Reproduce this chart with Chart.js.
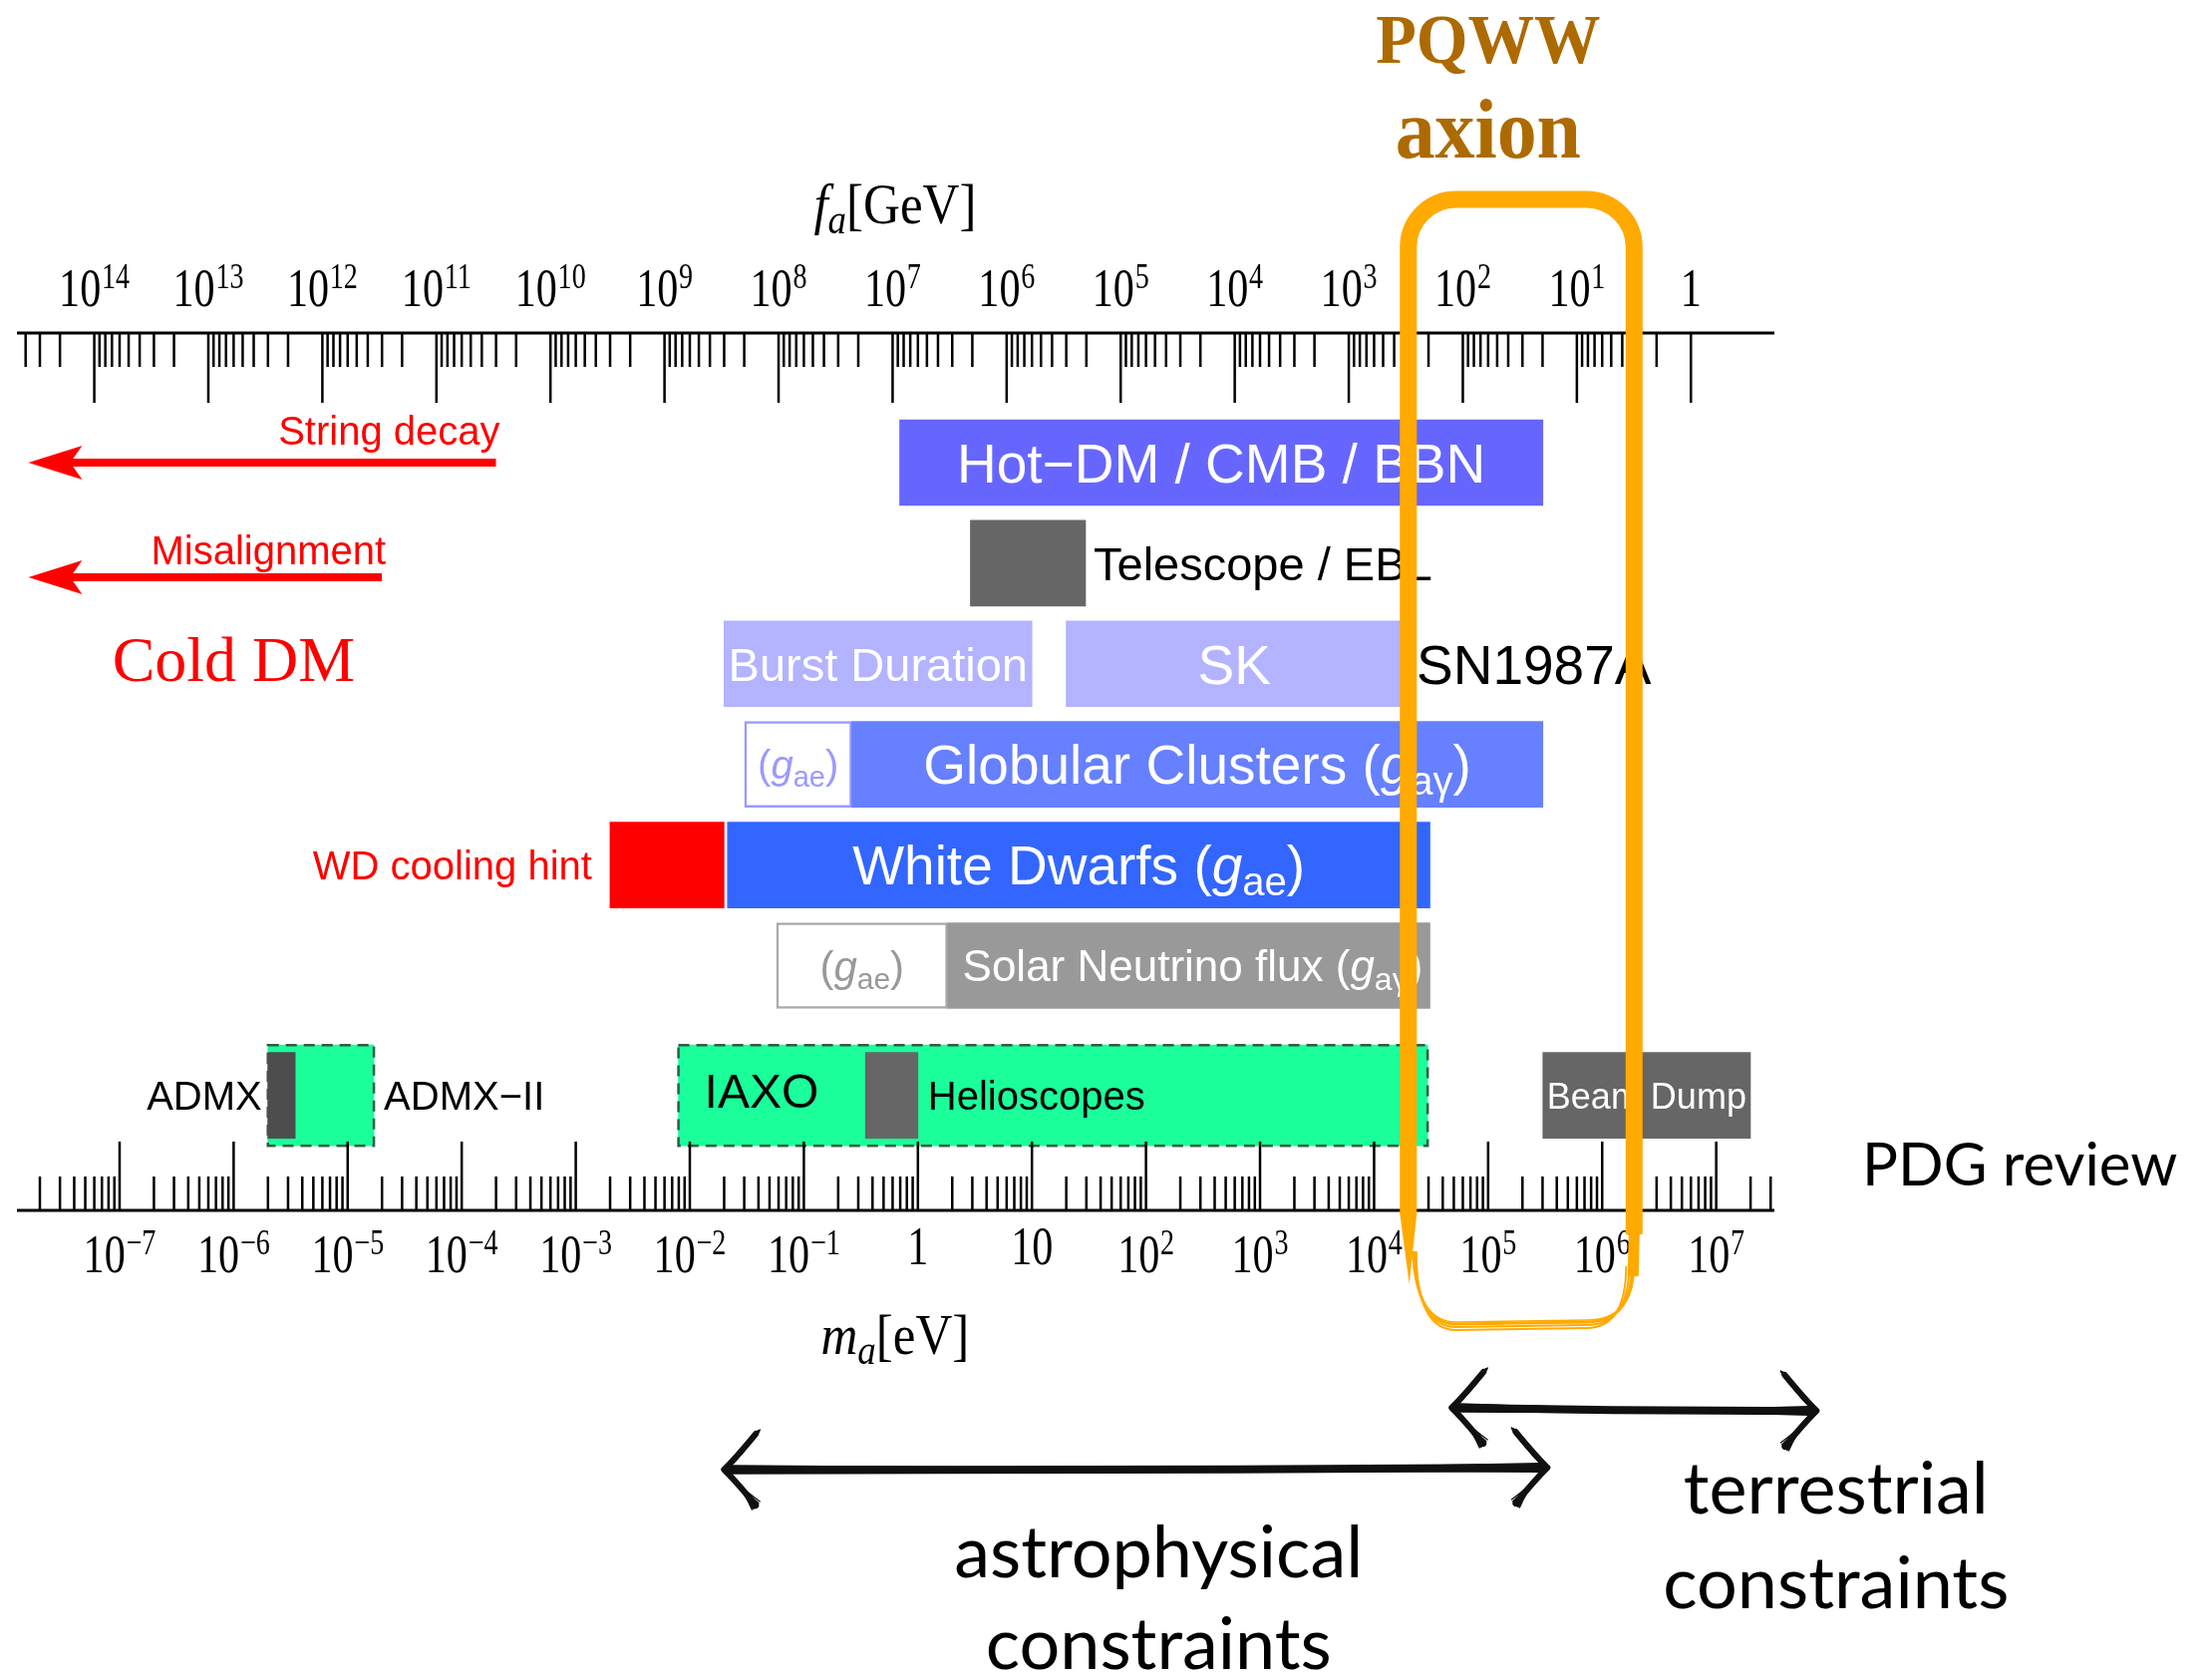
<!DOCTYPE html>
<html>
<head>
<meta charset="utf-8">
<title>Axion bounds</title>
<script src="https://cdn.jsdelivr.net/npm/chart.js@4.4.1/dist/chart.umd.min.js"></script>
<style>
  html, body { margin: 0; padding: 0; background: #ffffff; }
  #wrap { width: 2219px; height: 1682px; }
</style>
</head>
<body>
<div id="wrap"><canvas id="axionChart" width="2219" height="1682"></canvas></div>
<script>
// x values are log10(m_a / eV); f_a [GeV] follows from m_a = 6 meV * 1e9 GeV / f_a
const FA_MA_OFFSET = Math.log10(6e6);

// rows, top to bottom
const rowNames = ['cosmology', 'telescope', 'SN1987A', 'globular clusters', 'white dwarfs', 'sun', 'experiments'];
const rowPos = [0, 1, 2, 3, 4, 5, 6.29];

// excluded / hinted mass ranges
const boundLabels = ['Hot−DM / CMB / BBN', 'Telescope / EBL', 'Burst Duration', 'SK', '(g_ae)', 'Globular Clusters (g_aγ)',
                     'WD cooling hint', 'White Dwarfs (g_ae)', '(g_ae)', 'Solar Neutrino flux (g_aγ)', 'ADMX', 'Helioscopes', 'Beam Dump'];
const boundRow = [0, 1, 2, 2, 3, 3, 4, 4, 5, 5, 6, 6, 6];
const boundMin = [-0.16, 0.46, -1.70, 1.30, -1.52, -0.58, -2.70, -1.67, -1.24, 0.26, -5.70, -0.46, 5.48];
const boundMax = [5.48, 1.47, 1.00, 4.25, -0.58, 5.48, -1.70, 4.49, 0.26, 4.49, -5.46, 0.00, 7.30];

// planned searches
const searchLabels = ['ADMX−II', 'IAXO'];
const searchRow = [6, 6];
const searchMin = [-5.70, -2.10];
const searchMax = [-4.77, 4.47];

// cold dark matter production arrows
const cdmLabels = ['String decay', 'Misalignment'];
const cdmFrom = [-3.70, -4.70];
const cdmTo = [-7.80, -7.80];
const cdmRow = [0, 1.14];

// PQWW window and constraint spans
const pqwwRange = [4.30, 6.28];
const spanLabels = [['astrophysical', 'constraints'], ['terrestrial', 'constraints']];
const spanMin = [-1.70, 4.68];
const spanMax = [5.52, 7.88];

// axis decades
const faDecades = [14, 13, 12, 11, 10, 9, 8, 7, 6, 5, 4, 3, 2, 1, 0];
const maDecades = [-7, -6, -5, -4, -3, -2, -1, 0, 1, 2, 3, 4, 5, 6, 7];
const minorSteps = [2, 3, 4, 5, 6, 7, 8, 9];

const SANS = '"Liberation Sans", Arial, Helvetica, sans-serif';
const SERIF = '"Liberation Serif", "Times New Roman", serif';
const GILL = 'Lato, "Open Sans", sans-serif';

const boundFill = ['#6666FF', '#666666', '#B3B3FF', '#B3B3FF', '#FFFFFF', '#6680FF', '#FF0000',
                   '#3366FF', '#FFFFFF', '#999999', '#4D4D4D', '#666666', '#666666'];
const boundEdge = ['#6666FF', '#666666', '#B3B3FF', '#B3B3FF', '#9999FF', '#6680FF', '#FF0000',
                   '#3366FF', '#AAAAAA', '#999999', '#4D4D4D', '#666666', '#666666'];
const boundEdgeWidth = [0, 0, 0, 0, 2.5, 0, 0, 0, 2.5, 0, 0, 0, 0];

const labelStyle = [
    { pos: 'center', color: '#FFFFFF', size: 55 },
    { pos: 'right', color: '#000000', size: 47, gap: 8 },
    { pos: 'center', color: '#FFFFFF', size: 47 },
    { pos: 'center', color: '#FFFFFF', size: 55 },
    { pos: 'center', color: '#9A9AFF', size: 40 },
    { pos: 'center', color: '#FFFFFF', size: 55 },
    { pos: 'left', color: '#FF0000', size: 40, gap: 18 },
    { pos: 'center', color: '#FFFFFF', size: 55 },
    { pos: 'center', color: '#999999', size: 42 },
    { pos: 'inside', color: '#FFFFFF', size: 44, gap: 15 },
    { pos: 'left', color: '#000000', size: 40, gap: 6 },
    { pos: 'right', color: '#000000', size: 40, gap: 10 },
    { pos: 'center', color: '#FFFFFF', size: 36 }
];

// split "g_ae" into italic g + subscript
function textParts(str) {
    const out = [];
    str.split(/(g_[a-zγ]+)/).forEach(s => {
        if (!s) return;
        if (s.startsWith('g_')) {
            out.push({ t: 'g', italic: true });
            out.push({ t: s.slice(2), sub: true });
        } else {
            out.push({ t: s });
        }
    });
    return out;
}

function drawRich(ctx, str, x, y, size, align, color) {
    const parts = textParts(str);
    const fontFor = p => `${p.italic ? 'italic ' : ''}${p.sub ? Math.round(size * 0.72) : size}px ${SANS}`;
    let total = 0;
    parts.forEach(p => { ctx.font = fontFor(p); p.w = ctx.measureText(p.t).width; total += p.w; });
    let cx = align === 'center' ? x - total / 2 : align === 'right' ? x - total : x;
    ctx.fillStyle = color;
    ctx.textAlign = 'left';
    ctx.textBaseline = 'alphabetic';
    parts.forEach(p => {
        ctx.font = fontFor(p);
        ctx.fillText(p.t, cx, y + (p.sub ? size * 0.2 : 0));
        cx += p.w;
    });
}

function drawPower(ctx, base, exp, cx, baseline) {
    const size = 54, supSize = 36, squeeze = 0.78;
    ctx.save();
    ctx.translate(cx, baseline);
    ctx.scale(squeeze, 1);
    ctx.fillStyle = '#000';
    ctx.textAlign = 'left';
    ctx.textBaseline = 'alphabetic';
    ctx.font = `${size}px ${SERIF}`;
    const wb = ctx.measureText(base).width;
    let we = 0;
    if (exp) { ctx.font = `${supSize}px ${SERIF}`; we = ctx.measureText(exp).width + 1; }
    const x0 = -(wb + we) / 2;
    ctx.font = `${size}px ${SERIF}`;
    ctx.fillText(base, x0, 0);
    if (exp) {
        ctx.font = `${supSize}px ${SERIF}`;
        ctx.fillText(exp, x0 + wb + 1, -size * 0.34);
    }
    ctx.restore();
}

function squeezedText(ctx, parts, cx, baseline, squeeze) {
    // parts: [text, font, dy]
    ctx.save();
    ctx.translate(cx, baseline);
    ctx.scale(squeeze, 1);
    ctx.textAlign = 'left';
    ctx.textBaseline = 'alphabetic';
    let total = 0;
    parts.forEach(p => { ctx.font = p[1]; total += ctx.measureText(p[0]).width; });
    let x = -total / 2;
    parts.forEach(p => {
        ctx.font = p[1];
        ctx.fillText(p[0], x, p[2] || 0);
        x += ctx.measureText(p[0]).width;
    });
    ctx.restore();
}

function redArrow(ctx, x0, x1, y) {
    ctx.strokeStyle = '#FF0000';
    ctx.fillStyle = '#FF0000';
    ctx.lineWidth = 8;
    ctx.beginPath();
    ctx.moveTo(x0, y);
    ctx.lineTo(x1 + 40, y);
    ctx.stroke();
    ctx.beginPath();
    ctx.moveTo(x1, y);
    ctx.lineTo(x1 + 54, y - 17);
    ctx.lineTo(x1 + 42, y);
    ctx.lineTo(x1 + 54, y + 17);
    ctx.closePath();
    ctx.fill();
}

function sketchLine(ctx, x0, y0, x1, y1) {
    // a few overlapping pen strokes, heavier in the middle
    const strokes = [[0, 0, 8], [2.5, -1.5, 3], [-2.5, 2, 3], [4, 3, 1.5], [-4, -3, 1.5], [1, 4.5, 1.2], [-1, -4.5, 1.2]];
    strokes.forEach(([a, b, w]) => {
        ctx.lineWidth = w;
        ctx.beginPath();
        ctx.moveTo(x0, y0 + a);
        ctx.quadraticCurveTo((x0 + x1) / 2, (y0 + y1) / 2 + (a - b) / 2 + 2, x1, y1 + b);
        ctx.stroke();
    });
}

function chevron(ctx, tx, ty, dir, w, h) {
    // dir = -1 points left, +1 points right
    const strokes = [[0, 6], [2.5, 3], [-2, 2.5], [4, 1.5], [-4, 1.2]];
    strokes.forEach(([o, lw]) => {
        ctx.lineWidth = lw;
        ctx.beginPath();
        ctx.moveTo(tx - dir * (w + o), ty - h - o);
        ctx.quadraticCurveTo(tx - dir * (w * 0.35 + o), ty - h * 0.3, tx, ty + o * 0.4);
        ctx.quadraticCurveTo(tx - dir * (w * 0.35 + o), ty + h * 0.3, tx - dir * (w - o), ty + h + o);
        ctx.stroke();
    });
}

function barSpan(el) {
    const { x, base, y } = el.getProps(['x', 'base', 'y'], true);
    return { lo: Math.min(x, base), hi: Math.max(x, base), y };
}

const dashedBoxes = {
    id: 'dashedBoxes',
    afterDatasetDraw(chart, args) {
        if (args.index !== 1) return;
        const ctx = chart.ctx;
        ctx.save();
        ctx.strokeStyle = 'rgba(45, 60, 50, 0.85)';
        ctx.lineWidth = 2.5;
        ctx.setLineDash([11, 7]);
        args.meta.data.forEach(el => {
            const { lo, hi, y } = barSpan(el);
            const h = el.getProps(['height'], true).height;
            ctx.strokeRect(lo, y - h / 2, hi - lo, h);
        });
        ctx.restore();
    }
};

const overlay = {
    id: 'overlay',
    afterDraw(chart) {
        const ctx = chart.ctx;
        const area = chart.chartArea;
        const px = v => chart.scales.x.getPixelForValue(v);
        const py = v => chart.scales.y.getPixelForValue(v);
        ctx.save();

        // labels on and beside the bars
        const bars = chart.getDatasetMeta(0).data;
        bars.forEach((el, i) => {
            const { lo, hi, y } = barSpan(el);
            const st = labelStyle[i];
            const yb = y + st.size * 0.36;
            if (st.pos === 'center') drawRich(ctx, boundLabels[i], (lo + hi) / 2, yb, st.size, 'center', st.color);
            else if (st.pos === 'right') drawRich(ctx, boundLabels[i], hi + st.gap, yb, st.size, 'left', st.color);
            else if (st.pos === 'left') drawRich(ctx, boundLabels[i], lo - st.gap, yb, st.size, 'right', st.color);
            else drawRich(ctx, boundLabels[i], lo + st.gap, yb, st.size, 'left', st.color);
        });
        // supernova row name after the SK bar
        const sk = barSpan(bars[3]);
        drawRich(ctx, rowNames[2], sk.hi + 14, sk.y + 55 * 0.36, 55, 'left', '#000000');

        const boxes = chart.getDatasetMeta(1).data;
        const admx2 = barSpan(boxes[0]);
        drawRich(ctx, searchLabels[0], admx2.hi + 10, admx2.y + 40 * 0.36, 40, 'left', '#000000');
        const iaxo = barSpan(boxes[1]);
        drawRich(ctx, searchLabels[1], iaxo.lo + 26, iaxo.y + 48 * 0.36 - 5, 48, 'left', '#000000');

        // axis lines
        const yTop = area.top, yBot = area.bottom;
        ctx.strokeStyle = '#000';
        ctx.lineWidth = 3;
        ctx.beginPath();
        ctx.moveTo(area.left, yTop); ctx.lineTo(area.right, yTop);
        ctx.moveTo(area.left, yBot); ctx.lineTo(area.right, yBot);
        ctx.stroke();

        const xMin = chart.scales.x.min, xMax = chart.scales.x.max;
        const inRange = v => v >= xMin && v <= xMax;
        ctx.lineWidth = 2.5;
        ctx.beginPath();
        // f_a ticks hang down from the top axis
        faDecades.forEach(n => {
            const v = FA_MA_OFFSET - n;
            ctx.moveTo(px(v), yTop); ctx.lineTo(px(v), yTop + 70);
        });
        [15].concat(faDecades).forEach(n => minorSteps.forEach(k => {
            const m = FA_MA_OFFSET - (n - 1) - Math.log10(k);
            if (n >= 1 && inRange(m)) { ctx.moveTo(px(m), yTop); ctx.lineTo(px(m), yTop + 34); }
        }));
        // m_a ticks stand up from the bottom axis
        maDecades.forEach(n => {
            ctx.moveTo(px(n), yBot); ctx.lineTo(px(n), yBot - 69);
        });
        [-8].concat(maDecades).forEach(n => minorSteps.forEach(k => {
            const m = n + Math.log10(k);
            if (inRange(m)) { ctx.moveTo(px(m), yBot); ctx.lineTo(px(m), yBot - 34); }
        }));
        ctx.stroke();

        faDecades.forEach(n => {
            const x = px(FA_MA_OFFSET - n);
            if (n === 0) drawPower(ctx, '1', '', x, yTop - 27);
            else drawPower(ctx, '10', String(n), x, yTop - 27);
        });
        maDecades.forEach(n => {
            const x = px(n);
            if (n === 0) drawPower(ctx, '1', '', x, yBot + 54);
            else if (n === 1) drawPower(ctx, '10', '', x, yBot + 54);
            else drawPower(ctx, '10', n < 0 ? '−' + Math.abs(n) : String(n), x, yBot + 62);
        });

        // axis titles
        ctx.fillStyle = '#000';
        squeezedText(ctx, [
            ['f', `italic 58px ${SERIF}`, 0],
            ['a', `italic 42px ${SERIF}`, 10],
            ['[GeV]', `58px ${SERIF}`, 0]
        ], px(-0.2), yTop - 110, 0.88);
        squeezedText(ctx, [
            ['m', `italic 58px ${SERIF}`, 0],
            ['a', `italic 42px ${SERIF}`, 10],
            ['[eV]', `58px ${SERIF}`, 0]
        ], px(-0.2), yBot + 144, 0.88);

        // cold dark matter production
        cdmLabels.forEach((label, i) => {
            const y = py(cdmRow[i]);
            redArrow(ctx, px(cdmFrom[i]), px(cdmTo[i]), y);
            drawRich(ctx, label, px(cdmFrom[i]) + 4, y - (i === 0 ? 18 : 13), 40, 'right', '#FF0000');
        });
        ctx.fillStyle = '#FF0000';
        ctx.textAlign = 'left';
        ctx.font = `64px ${SERIF}`;
        ctx.fillText('Cold DM', px(-7.064), py(2.17));

        // review tag and constraint spans
        ctx.fillStyle = '#000';
        ctx.font = `60px ${GILL}`;
        ctx.fillText('PDG review', area.right + 88, yBot - 25);

        ctx.strokeStyle = '#111';
        ctx.lineCap = 'round';
        ctx.lineJoin = 'round';
        const spanY = [[yBot + 260, yBot + 258], [yBot + 198, yBot + 201]];
        spanMin.forEach((lo, i) => {
            const x0 = px(lo), x1 = px(spanMax[i]);
            sketchLine(ctx, x0 + 8, spanY[i][0], x1 - 8, spanY[i][1]);
            chevron(ctx, x0, spanY[i][0], -1, 32, 36);
            chevron(ctx, x1, spanY[i][1], 1, 32, 36);
        });
        ctx.fillStyle = '#000';
        ctx.textAlign = 'center';
        ctx.font = `72px ${GILL}`;
        ctx.fillText(spanLabels[0][0], px(2.11), yBot + 368);
        ctx.fillText(spanLabels[0][1], px(2.11), yBot + 460);
        ctx.fillText(spanLabels[1][0], px(8.05), yBot + 304);
        ctx.fillText(spanLabels[1][1], px(8.05), yBot + 399);

        // PQWW window
        const L = px(pqwwRange[0]), R = px(pqwwRange[1]);
        const T = yTop - 134, B = yBot + 114, r = 48;
        ctx.strokeStyle = '#FFAA00';
        ctx.fillStyle = '#FFAA00';
        ctx.lineCap = 'butt';
        ctx.lineWidth = 17;
        ctx.beginPath();
        ctx.moveTo(L, B - 110);
        ctx.lineTo(L, T + r);
        ctx.arcTo(L, T, L + r, T, r);
        ctx.lineTo(R - r, T);
        ctx.arcTo(R, T, R, T + r, r);
        ctx.lineTo(R, B - 90);
        ctx.stroke();
        ctx.beginPath();
        ctx.moveTo(L - 8.5, B - 111);
        ctx.lineTo(L + 8.5, B - 111);
        ctx.lineTo(L + 1, B - 40);
        ctx.closePath();
        ctx.fill();
        ctx.lineWidth = 11;
        ctx.beginPath();
        ctx.moveTo(R, B - 92);
        ctx.lineTo(R - 1, B - r);
        ctx.stroke();
        [[0, 3], [3, 2], [6, 2], [-2, 1.5]].forEach(([o, w]) => {
            ctx.lineWidth = w;
            ctx.beginPath();
            ctx.moveTo(L + 5 + o * 0.5, B - r - 25);
            ctx.quadraticCurveTo(L + 8, B + o, L + r, B + o);
            ctx.lineTo(R - r, B - 2 + o);
            ctx.quadraticCurveTo(R - 2 - o, B - 2 + o, R - 2 - o, B - r - 10);
            ctx.stroke();
        });

        ctx.fillStyle = '#AD6A00';
        squeezedText(ctx, [['PQWW', `bold 70px ${SERIF}`, 0]], px(5.0), yTop - 271, 0.95);
        squeezedText(ctx, [['axion', `bold 84px ${SERIF}`, 0]], px(5.0), yTop - 176, 0.95);

        ctx.restore();
    }
};

new Chart(document.getElementById('axionChart'), {
    type: 'bar',
    data: {
        datasets: [
            {
                label: 'bounds',
                data: boundMin.map((lo, i) => ({ x: [lo, boundMax[i]], y: rowPos[boundRow[i]] })),
                backgroundColor: boundFill,
                borderColor: boundEdge,
                borderWidth: boundEdgeWidth,
                borderSkipped: false,
                barThickness: 86,
                grouped: false,
                order: 1
            },
            {
                label: 'searches',
                data: searchMin.map((lo, i) => ({ x: [lo, searchMax[i]], y: rowPos[searchRow[i]] })),
                backgroundColor: '#1AFF9A',
                borderWidth: 0,
                barThickness: 101,
                grouped: false,
                order: 2
            }
        ]
    },
    options: {
        indexAxis: 'y',
        responsive: false,
        animation: false,
        devicePixelRatio: 1,
        layout: { padding: { left: 17, right: 439, top: 334, bottom: 468 } },
        scales: {
            x: { type: 'linear', min: -7.9, max: 7.51, display: false },
            y: { type: 'linear', min: -1.288, max: 7.433, reverse: true, offset: false, display: false }
        },
        plugins: {
            legend: { display: false },
            tooltip: { enabled: false }
        }
    },
    plugins: [dashedBoxes, overlay]
});
</script>
</body>
</html>
